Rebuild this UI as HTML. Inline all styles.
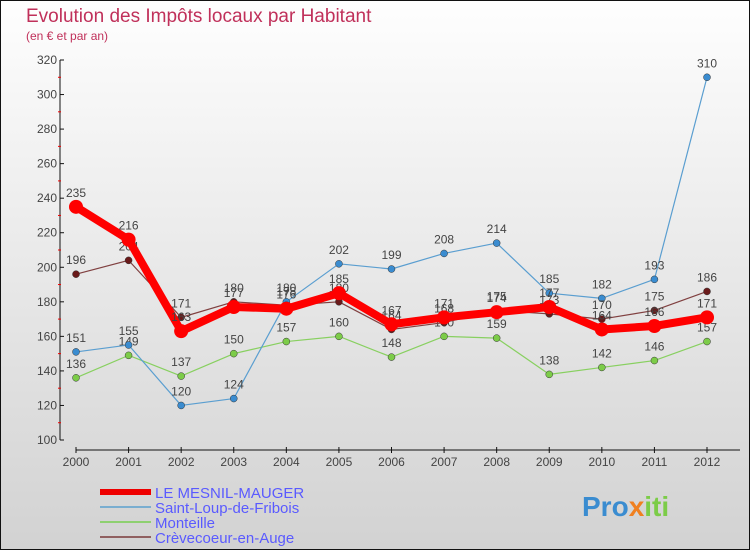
<!DOCTYPE html>
<html><head><meta charset="utf-8"><style>
body{margin:0;width:750px;height:550px;overflow:hidden;font-family:"Liberation Sans",sans-serif;}
svg text{font-family:"Liberation Sans",sans-serif;}
</style></head><body>
<svg id="c" width="750" height="550" xmlns="http://www.w3.org/2000/svg">
<defs><linearGradient id="bg" x1="0" y1="0" x2="0" y2="1"><stop offset="0" stop-color="#fefefe"/><stop offset="1" stop-color="#d2d2d2"/></linearGradient></defs>
<rect x="0.5" y="0.5" width="749" height="549" fill="url(#bg)" stroke="#111" stroke-width="1"/>
<text x="26" y="22" font-size="19" fill="#c0305a">Evolution des Impôts locaux par Habitant</text>
<text x="26" y="40" font-size="12" fill="#c0305a">(en € et par an)</text>
<g id="axes"></g><g id="series"></g><g id="legend"></g>
</svg>
<script>
const years=[2000,2001,2002,2003,2004,2005,2006,2007,2008,2009,2010,2011,2012];
const mesnil=[235,216,163,177,176,185,167,171,174,177,164,166,171];
const stloup=[151,155,120,124,180,202,199,208,214,185,182,193,310];
const monteille=[136,149,137,150,157,160,148,160,159,138,142,146,157];
const crevecoeur=[196,204,171,180,178,180,164,168,175,173,170,175,186];
const yTicks=[100,120,140,160,180,200,220,240,260,280,300,320];
const NS="http://www.w3.org/2000/svg";
const X=i=>76+i*(707-76)/12;
const Y=v=>440-(v-100)*380/220;
function mk(t,a,p){const e=document.createElementNS(NS,t);for(const k in a)e.setAttribute(k,a[k]);p.appendChild(e);return e;}
const ax=document.getElementById('axes');
let yl=mk('line',{x1:60,y1:60,x2:60,y2:440,stroke:'#111'},ax);

yTicks.forEach((v,i)=>{
 mk('line',{x1:60,y1:Y(v),x2:64,y2:Y(v),stroke:'#111'},ax);
 if(i<yTicks.length-1)mk('line',{x1:58,y1:Y(v+10),x2:61,y2:Y(v+10),stroke:'#e00'},ax);
 const t=mk('text',{x:57,y:Y(v)+4,'font-size':12,fill:'#444','text-anchor':'end'},ax);t.textContent=v;
 
});
let xl=mk('line',{x1:76,y1:450,x2:740,y2:450,stroke:'#111'},ax);

years.forEach((y,i)=>{
 mk('line',{x1:X(i),y1:447,x2:X(i),y2:453,stroke:'#111'},ax);
 const t=mk('text',{x:X(i),y:466,'font-size':12,fill:'#444','text-anchor':'middle'},ax);t.textContent=y;
 
});
const sg=document.getElementById('series');
function series(name,vals,col,dot,w,r){
 const g=mk('g',{},sg);
 
 mk('polyline',{points:vals.map((v,i)=>X(i)+','+Y(v)).join(' '),fill:'none',stroke:col,'stroke-width':w,'stroke-linejoin':'round'},g);
 vals.forEach((v,i)=>{
  const c=mk('circle',{cx:X(i),cy:Y(v),r:r,fill:dot,stroke:dot==col?'none':'#333','stroke-width':0.5},g);
  
  const t=mk('text',{x:X(i),y:Y(v)-10,'font-size':12,fill:'#444','text-anchor':'middle'},g);t.textContent=v;
  
 });
}
series('series-monteille',monteille,'#88d060','#7ccc48',1.2,3.5);
series('series-saint-loup',stloup,'#5a9ed0','#3a8cd0',1.2,3.5);
series('series-crevecoeur',crevecoeur,'#804040','#6a1a1a',1.2,3.5);
series('series-mesnil',mesnil,'#f00','#f00',8,7);
const lg=document.getElementById('legend');
const items=[['LE MESNIL-MAUGER','#e00',6],['Saint-Loup-de-Fribois','#7aaed0',2],['Monteille','#8ed070',2],['Crèvecoeur-en-Auge','#906060',2]];
items.forEach((it,i)=>{
 const y=492+i*15;
 const g=mk('g',{},lg);
 
 mk('line',{x1:100,y1:y,x2:151,y2:y,stroke:it[1],'stroke-width':it[2]},g);
 const t=mk('text',{x:155,y:y+6,'font-size':15,fill:'#5a5aff'},g);t.textContent=it[0];
});
const lo=mk('text',{x:582,y:516,'font-size':28,'font-weight':'bold',fill:'#3a8cd0'},lg);
lo.innerHTML='Pro<tspan fill="#f08020">x</tspan><tspan fill="#7ccc48">iti</tspan>';

</script>
</body></html>
